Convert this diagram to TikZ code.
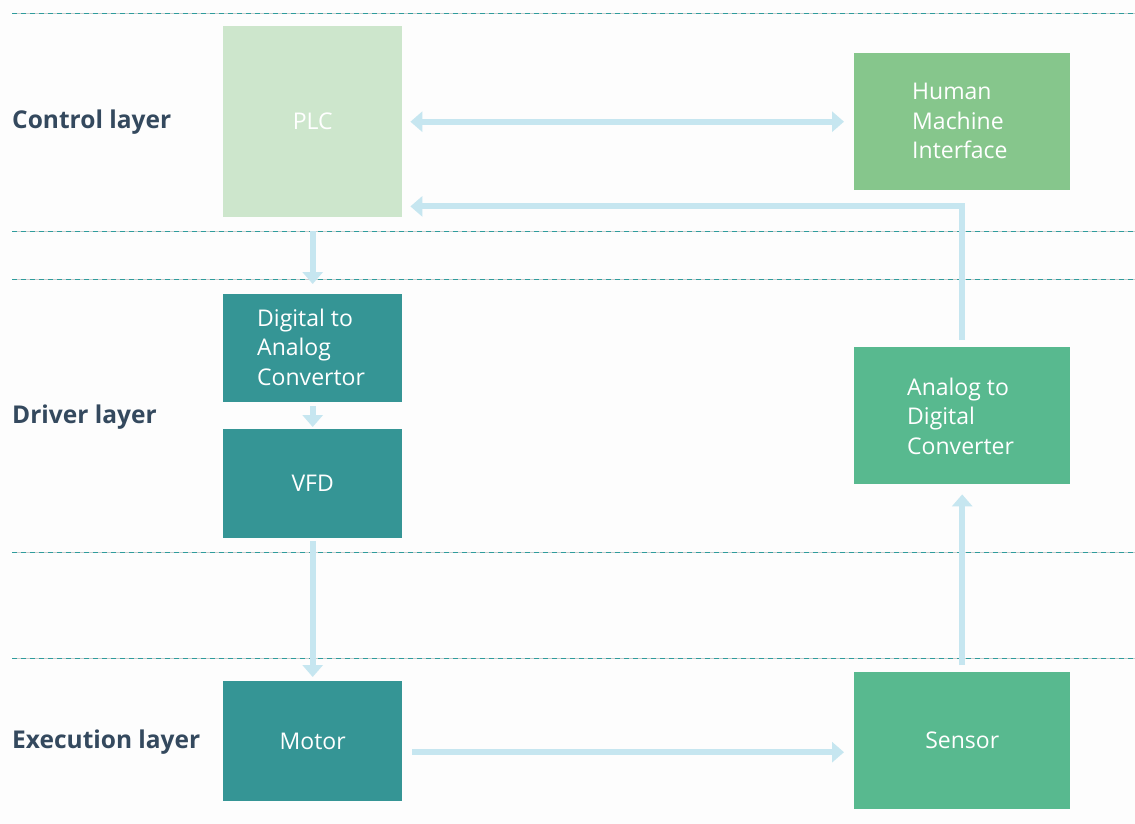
\documentclass[tikz,border=0pt]{standalone}
\usepackage{fontspec}
\setmainfont{Open Sans}
\usetikzlibrary{arrows.meta}
\definecolor{bg}{HTML}{FDFDFD}
\definecolor{plcc}{HTML}{CDE6CC}
\definecolor{hmic}{HTML}{86C68C}
\definecolor{tealc}{HTML}{359595}
\definecolor{greenc}{HTML}{58B98F}
\definecolor{arrc}{HTML}{C6E6F0}
\definecolor{labc}{HTML}{34495E}
\definecolor{dashc}{HTML}{2E9C9C}
\begin{document}
\begin{tikzpicture}[x=1pt,y=-1pt,
  blk/.style={anchor=north west,inner sep=0pt},
  btext/.style={text=white,inner sep=0pt,font=\fontsize{23}{29.5}\selectfont},
  mtext/.style={btext,anchor=west,align=left},
  layerlab/.style={anchor=west,inner sep=0pt,text=labc,font=\fontsize{24.5}{28}\selectfont\bfseries},
  arr/.style={draw=arrc,line width=6pt,-{Triangle[width=20pt,length=12pt]}},
  sep/.style={draw=gray!40,line width=0.6pt}]
\fill[bg] (0,0) rectangle (1135,824);
\useasboundingbox (0,0) rectangle (1135,824);
% separator lines
\foreach \yy in {13,231,279,552,658}{
  \draw[sep] (12,\yy) -- (1135,\yy);
  \draw[dashc,line width=0.8pt,dash pattern=on 5pt off 4pt] (12,\yy) -- (1135,\yy);
}
% boxes
\node[blk,fill=plcc,minimum width=179pt,minimum height=191pt] (plc) at (223,26) {};
\node[btext] (plct) at (plc.center) {PLC};
\node[blk,fill=hmic,minimum width=216pt,minimum height=137pt] (hmi) at (854,53) {};
\node[mtext] (hmit) at (912,121) {Human\\Machine\\Interface};
\node[blk,fill=tealc,minimum width=179pt,minimum height=108pt] (dac) at (223,294) {};
\node[mtext] (dact) at (257,347) {Digital to\\Analog\\Convertor};
\node[blk,fill=tealc,minimum width=179pt,minimum height=109pt] (vfd) at (223,429) {};
\node[btext] (vfdt) at (vfd.center) {VFD};
\node[blk,fill=tealc,minimum width=179pt,minimum height=120pt] (motor) at (223,681) {};
\node[btext] (motort) at (motor.center) {Motor};
\node[blk,fill=greenc,minimum width=216pt,minimum height=137pt] (adc) at (854,347) {};
\node[mtext] (adct) at (907,416) {Analog to\\Digital\\Converter};
\node[blk,fill=greenc,minimum width=216pt,minimum height=137pt] (sensor) at (854,672) {};
\node[btext] (sensort) at (sensor.center) {Sensor};
% layer labels
\node[layerlab] (l1) at (12,122) {Control layer};
\node[layerlab] (l2) at (12,417) {Driver layer};
\node[layerlab] (l3) at (12,742) {Execution layer};
% arrows
\draw[arr,{Triangle[width=20pt,length=12pt]}-{Triangle[width=20pt,length=12pt]},shorten <=8pt,shorten >=10pt] (plc.east) -- (hmi.west);
\draw[arr,shorten >=8pt] ([yshift=7pt]adc.north) |- ([yshift=11pt]plc.south east);
\draw[arr,shorten <=14pt,shorten >=10pt] (plc.south) -- (dac.north);
\draw[arr,shorten <=4pt,shorten >=2pt] (dac.south) -- (vfd.north);
\draw[arr,shorten <=3pt,shorten >=4pt] (vfd.south) -- (motor.north);
\draw[arr,shorten <=10pt,shorten >=10pt] ([yshift=-11pt]motor.east) -- ([yshift=-11pt]motor.east -| sensor.west);
\draw[arr,shorten <=7pt,shorten >=10pt] (sensor.north) -- (adc.south);
\end{tikzpicture}
\end{document}
